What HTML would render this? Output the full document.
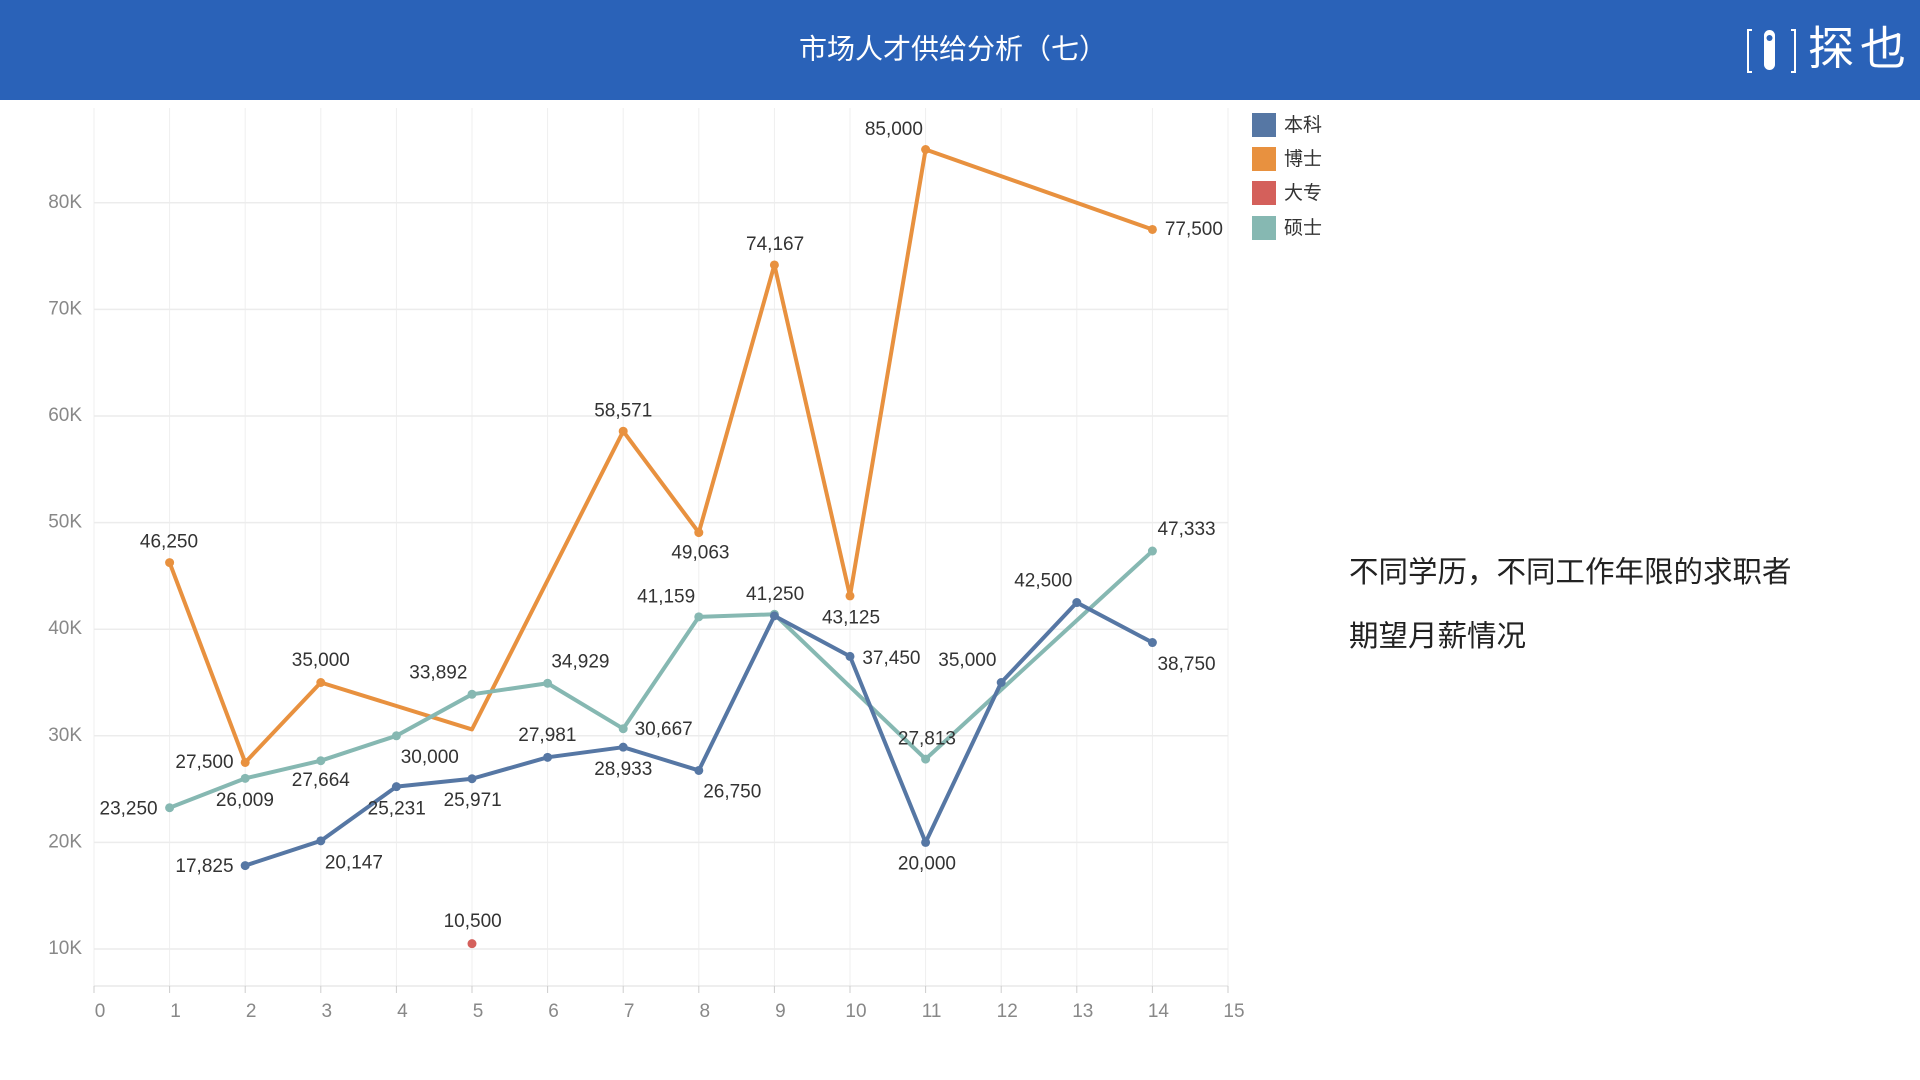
<!DOCTYPE html>
<html><head><meta charset="utf-8"><style>
body{margin:0;width:1920px;height:1080px;background:#fff;overflow:hidden;font-family:"Liberation Sans","Noto Sans CJK SC",sans-serif}
</style></head><body>
<svg id="s" width="1920" height="1080" xmlns="http://www.w3.org/2000/svg" style="position:absolute;left:0;top:0"></svg>
<script>
const S=1.2245;
const X=v=>94+75.6*v, Y=v=>949-(v-10000)/10000*106.6;
let h='';
h+='<rect x="0" y="0" width="1920" height="100" fill="#2a62b8"/>';
h+='<text x="953" y="51" font-size="28" fill="#fff" text-anchor="middle" dominant-baseline="middle" font-family="Liberation Sans,Noto Sans CJK SC,sans-serif">市场人才供给分析（七）</text>';
h+='<g stroke="#fff" stroke-width="2" fill="none"><path d="M1752 30h-4v42h4M1791 30h4v42h-4"/></g>';
h+='<rect x="1764" y="30" width="11" height="40" rx="5.5" fill="#fff"/><circle cx="1769.5" cy="38" r="3" fill="#2a62b8"/>';
h+='<text x="1808" y="52" font-size="46" fill="#fff" dominant-baseline="middle" font-family="Noto Sans CJK SC,sans-serif" letter-spacing="6">探也</text>';
for(let i=0;i<=15;i++)h+=`<line x1="${X(i)}" y1="108" x2="${X(i)}" y2="986" stroke="#efefef" stroke-width="1"/>`;
for(let k=1;k<=8;k++){const y=Y(k*10000);h+=`<line x1="94" y1="${y}" x2="1228" y2="${y}" stroke="#ececec" stroke-width="1.5"/><text x="82" y="${y}" font-size="19" fill="#888" text-anchor="end" dominant-baseline="middle">${k*10}K</text>`;}
h+='<line x1="94" y1="986" x2="1228" y2="986" stroke="#ddd"/>';
for(let i=0;i<=15;i++)h+=`<line x1="${X(i)}" y1="986" x2="${X(i)}" y2="993" stroke="#ccc"/><text x="${X(i)+6}" y="1012" font-size="19" fill="#888" text-anchor="middle" dominant-baseline="middle">${i}</text>`;
const series=[
 ['#e8913f',[[1,46250],[2,27500],[3,35000],[5,30600],[7,58571],[8,49063],[9,74167],[10,43125],[11,85000],[14,77500]],[1,2,3,7,8,9,10,11,14]],
 ['#86b8b2',[[1,23250],[2,26009],[3,27664],[4,30000],[5,33892],[6,34929],[7,30667],[8,41159],[9,41400],[11,27813],[14,47333]],[1,2,3,4,5,6,7,8,9,11,14]],
 ['#5677a4',[[2,17825],[3,20147],[4,25231],[5,25971],[6,27981],[7,28933],[8,26750],[9,41250],[10,37450],[11,20000],[12,35000],[13,42500],[14,38750]],null],
];
for(const [c,pts,mk] of series){
 h+=`<polyline points="${pts.map(p=>X(p[0])+','+Y(p[1])).join(' ')}" fill="none" stroke="${c}" stroke-width="4" stroke-linejoin="round"/>`;
 for(const p of pts){if(mk&&!mk.includes(p[0]))continue;h+=`<circle cx="${X(p[0])}" cy="${Y(p[1])}" r="4.5" fill="${c}"/>`;}
}
h+=`<circle cx="${X(5)}" cy="${Y(10500)}" r="4.5" fill="#d4605b"/>`;
const L=[[138,443,'46,250'],[167,623,'27,500'],[262,540,'35,000'],[509,336,'58,571'],[572,452,'49,063'],[633,200,'74,167'],[695,505,'43,125'],[730,106,'85,000'],[975,188,'77,500'],
[167,708,'17,825'],[289,705,'20,147'],[324,661,'25,231'],[386,654,'25,971'],[447,601,'27,981'],[509,629,'28,933'],[598,647,'26,750'],[633,486,'41,250'],[728,538,'37,450'],[757,706,'20,000'],[790,540,'35,000'],[852,475,'42,500'],[969,543,'38,750'],
[105,661,'23,250'],[200,654,'26,009'],[262,638,'27,664'],[351,619,'30,000'],[358,550,'33,892'],[474,541,'34,929'],[542,596,'30,667'],[544,488,'41,159'],[757,604,'27,813'],[969,433,'47,333'],[386,753,'10,500']];
for(const [x,y,t] of L)h+=`<text x="${x*S}" y="${y*S}" font-size="19" fill="#333" text-anchor="middle" dominant-baseline="middle">${t}</text>`;
const lg=[['#5677a4','本科'],['#e8913f','博士'],['#d4605b','大专'],['#86b8b2','硕士']];
lg.forEach((l,i)=>{const y=[125,159,193,228][i];h+=`<rect x="1252" y="${y-12}" width="24" height="24" fill="${l[0]}"/><text x="1284" y="${y+1}" font-size="19" fill="#333" dominant-baseline="middle" font-family="Noto Sans CJK SC,sans-serif">${l[1]}</text>`;});
h+='<text x="1349" y="574" font-size="29.5" fill="#222" dominant-baseline="middle" font-family="Noto Sans CJK SC,sans-serif">不同学历，不同工作年限的求职者</text>';
h+='<text x="1349" y="638" font-size="29.5" fill="#222" dominant-baseline="middle" font-family="Noto Sans CJK SC,sans-serif">期望月薪情况</text>';
document.getElementById('s').innerHTML=h;
</script>
</body></html>
